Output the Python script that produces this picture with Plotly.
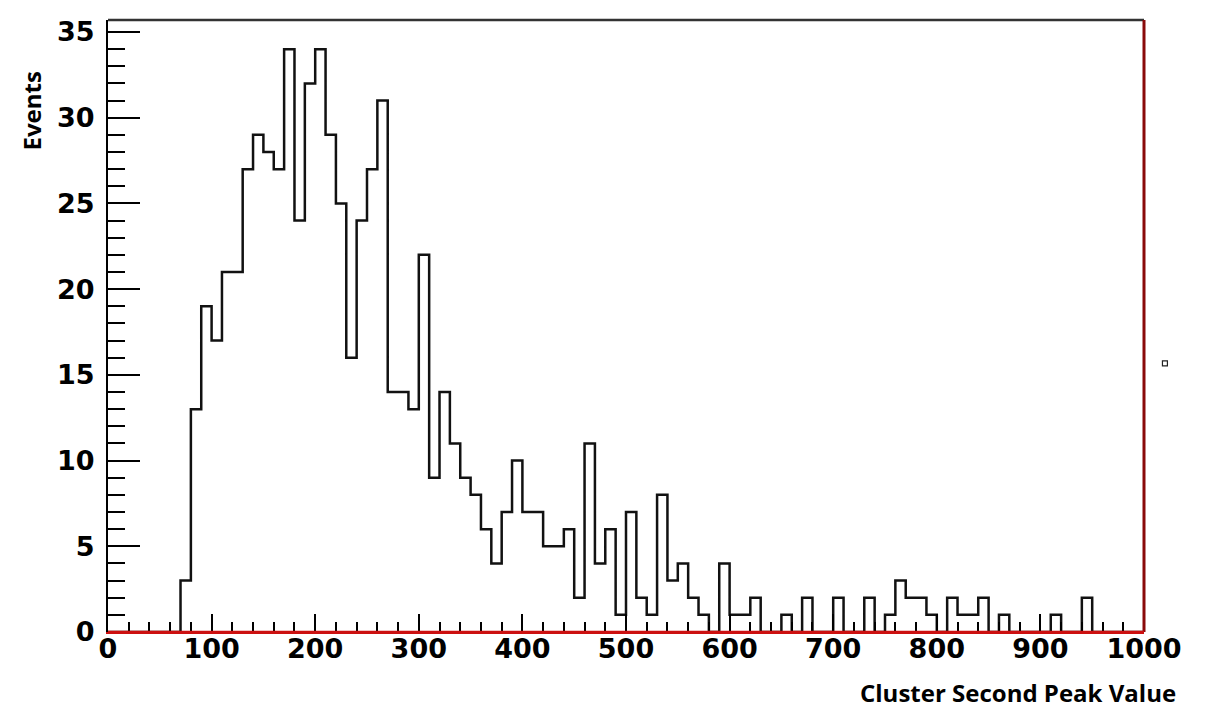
import plotly.graph_objects as go

# Histogram: 100 bins of width 10 from 0 to 1000
bin_start = 0
bin_width = 10
counts = [
    0, 0, 0, 0, 0, 0, 0, 3, 13, 19,          # 0-100
    17, 21, 21, 27, 29, 28, 27, 34, 24, 32,  # 100-200
    34, 29, 25, 16, 24, 27, 31, 14, 14, 13,  # 200-300
    22, 9, 14, 11, 9, 8, 6, 4, 7, 10,        # 300-400
    7, 7, 5, 5, 6, 2, 11, 4, 6, 1,           # 400-500
    7, 2, 1, 8, 3, 4, 2, 1, 0, 4,            # 500-600
    1, 1, 2, 0, 0, 1, 0, 2, 0, 0,            # 600-700
    2, 0, 0, 2, 0, 1, 3, 2, 2, 1,            # 700-800
    0, 2, 1, 1, 2, 0, 1, 0, 0, 0,            # 800-900
    0, 1, 0, 0, 2, 0, 0, 0, 0, 0,            # 900-1000
]
x_ticks = [0, 100, 200, 300, 400, 500, 600, 700, 800, 900, 1000]
y_ticks = [0, 5, 10, 15, 20, 25, 30, 35]
x_title = "Cluster Second Peak Value"
y_title = "Events"

edges = [bin_start + i * bin_width for i in range(len(counts) + 1)]
step_y = counts + [counts[-1]]

fig = go.Figure()
fig.add_trace(go.Scatter(
    x=edges, y=step_y, mode="lines", line_shape="hv",
    line=dict(color="#111111", width=2.5),
    hoverinfo="skip", showlegend=False,
))

tickfont = dict(family="DejaVu Sans", size=27, color="black", weight="bold")

# page body has an 8px margin, so the figure is sized 8px smaller
fig.update_layout(
    width=1198, height=701,
    margin=dict(l=100, r=62, t=9, b=77),
    paper_bgcolor="white", plot_bgcolor="white",
    showlegend=False,
    xaxis=dict(
        range=[0, 1000], tickvals=x_ticks, ticktext=[str(v) for v in x_ticks],
        showgrid=False, zeroline=False,
        showline=True, linecolor="#cc1010", linewidth=2,
        ticks="inside", ticklen=18, tickwidth=2, tickcolor="black",
        minor=dict(dtick=20, tick0=0, ticks="inside", ticklen=10, tickwidth=2, tickcolor="black"),
        tickfont=tickfont, ticklabelstandoff=-8,
    ),
    yaxis=dict(
        range=[0, 35.7], tickvals=y_ticks, ticktext=[str(v) for v in y_ticks],
        showgrid=False, zeroline=False,
        showline=True, linecolor="black", linewidth=2,
        ticks="inside", ticklen=32, tickwidth=2, tickcolor="black",
        minor=dict(dtick=1, tick0=0, ticks="inside", ticklen=17, tickwidth=2, tickcolor="black"),
        tickfont=tickfont, ticklabelstandoff=6,
    ),
    shapes=[
        # top frame line
        dict(type="line", xref="paper", yref="paper", x0=0, x1=1, y0=1, y1=1,
             line=dict(color="#333333", width=2.5), layer="above"),
        # right frame line (dark red)
        dict(type="line", xref="paper", yref="paper", x0=1, x1=1, y0=0, y1=1,
             line=dict(color="#8a0a0a", width=3), layer="above"),
        # red baseline over zero level
        dict(type="line", xref="paper", yref="y", x0=0, x1=1, y0=0, y1=0,
             line=dict(color="#cc1010", width=2.5), layer="above"),
        # tiny square artefact right of frame
        dict(type="rect", xref="paper", yref="paper", x0=1.0178, x1=1.0226, y0=0.435, y1=0.443,
             line=dict(color="#222222", width=1.2), fillcolor="white"),
    ],
    annotations=[
        dict(text=y_title, xref="paper", yref="paper", x=-0.0734, y=0.852,
             textangle=-90, showarrow=False, xanchor="center", yanchor="middle",
             font=dict(family="Open Sans", size=24, color="black", weight="bold")),
        dict(text=x_title, xref="paper", yref="paper", x=1.0328, y=-0.0992,
             showarrow=False, xanchor="right", yanchor="middle",
             font=dict(family="Open Sans", size=24, color="black", weight="bold")),
    ],
)

fig.write_html("out.html")
